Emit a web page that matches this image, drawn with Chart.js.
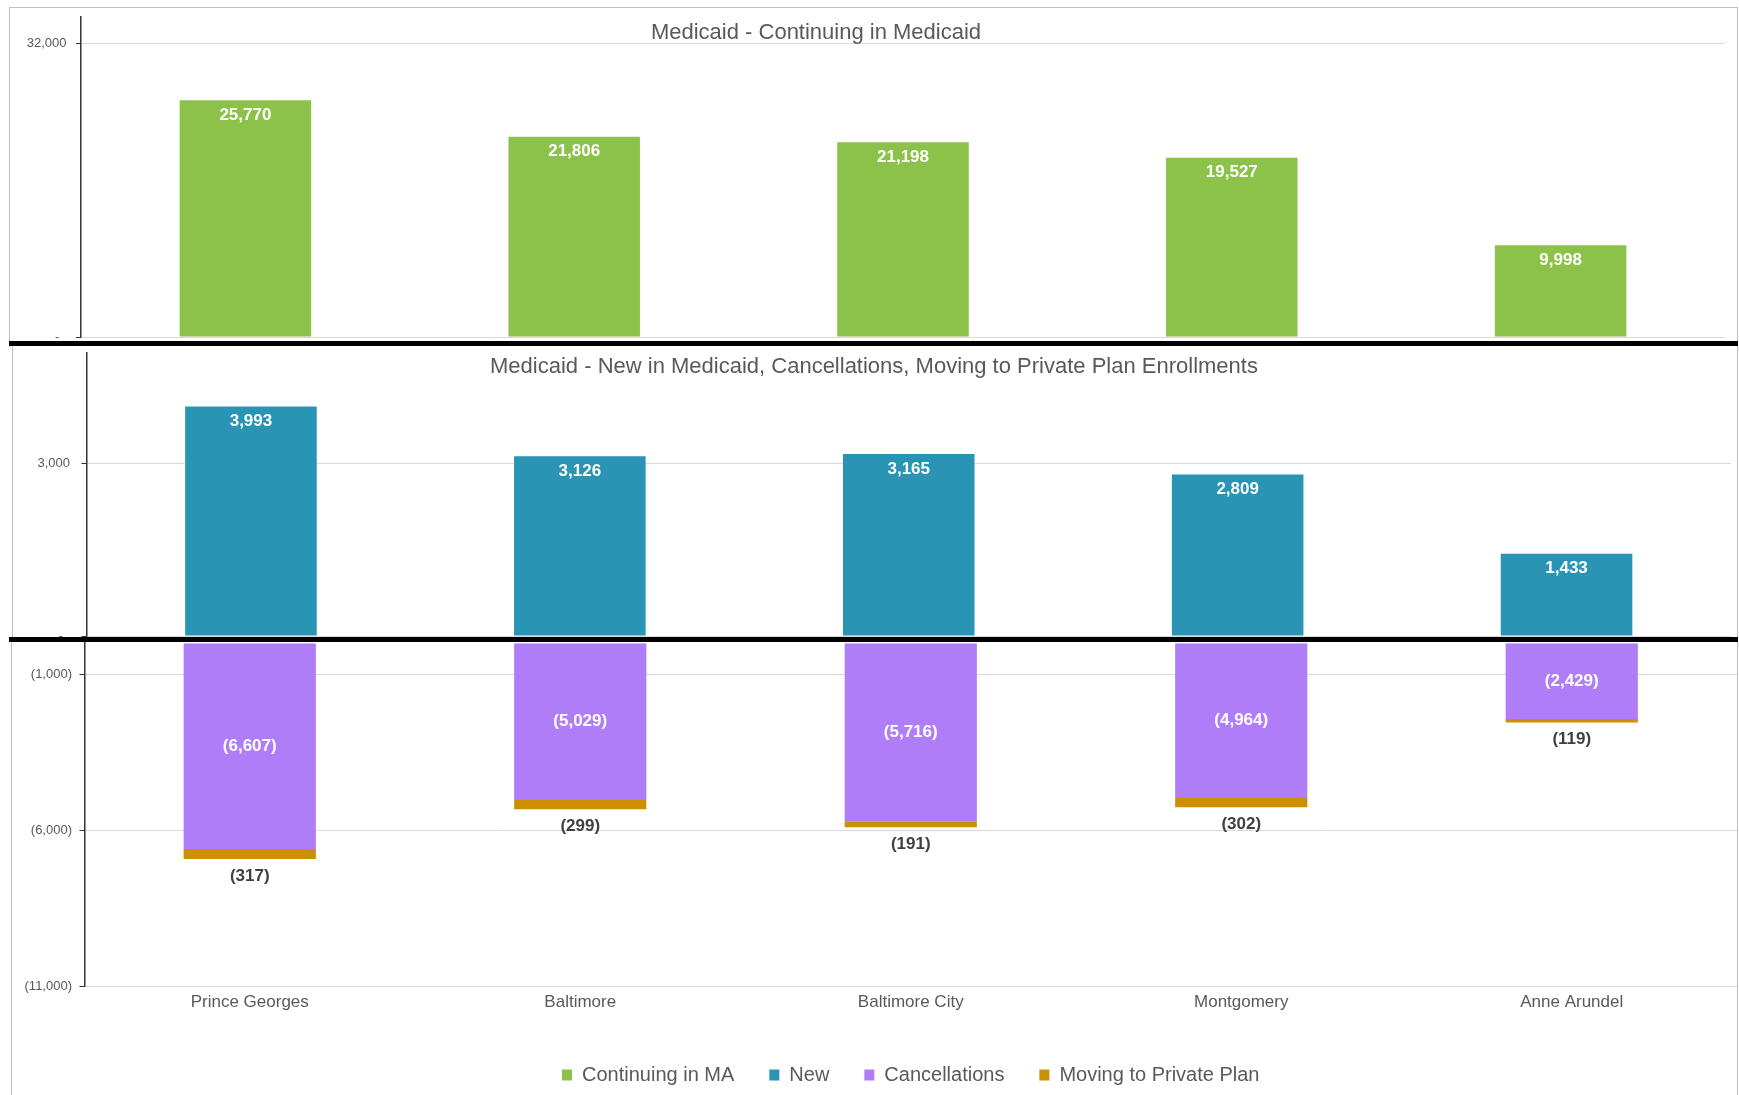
<!DOCTYPE html>
<html>
<head>
<meta charset="utf-8">
<title>Medicaid enrollments by county</title>
<script src="https://cdn.jsdelivr.net/npm/chart.js@4.4.1/dist/chart.umd.min.js"></script>
<style>
  html, body { margin: 0; padding: 0; background: #fff; overflow: hidden; }
  #wrap { position: relative; width: 1739px; height: 1095px; }
  canvas { position: absolute; left: 0; }
  .frame { position: absolute; border: 1px solid #bfbfbf; box-sizing: border-box; }
  .sep { position: absolute; background: #000; height: 5px; left: 9px; width: 1729px; z-index: 2; }
  .title { position: absolute; transform: translate(-50%, -50%); font: 22px "Liberation Sans", Arial, sans-serif; color: #595959; white-space: nowrap; z-index: 3; }
</style>
</head>
<body>
<div id="wrap">
  <div class="frame" style="left:9px;top:7px;width:1729px;height:340px;border-bottom:none"></div>
  <div class="frame" style="left:12px;top:343px;width:1726px;height:297px;border-top:none;border-bottom:none"></div>
  <div class="frame" style="left:11px;top:638px;width:1727px;height:470px;border-top:none"></div>

  <canvas id="cTop" width="1739" height="342" style="top:0"></canvas>
  <canvas id="cMid" width="1739" height="298" style="top:342px"></canvas>
  <canvas id="cLow" width="1739" height="454" style="top:641px"></canvas>

  <div class="sep" style="top:341px"></div>
  <div class="sep" style="top:637px"></div>

  <div class="title" style="left:816px;top:32px">Medicaid - Continuing in Medicaid</div>
  <div class="title" style="left:874px;top:366px">Medicaid - New in Medicaid, Cancellations, Moving to Private Plan Enrollments</div>
</div>

<script>
const counties = ['Prince Georges', 'Baltimore', 'Baltimore City', 'Montgomery', 'Anne Arundel'];
const continuing = [25770, 21806, 21198, 19527, 9998];
const newEnroll = [3993, 3126, 3165, 2809, 1433];
const cancellations = [-6607, -5029, -5716, -4964, -2429];
const movingPrivate = [-317, -299, -191, -302, -119];

const topTicks = [0, 32000];
const midTicks = [0, 3000];
const lowTicks = [-1000, -6000, -11000];

const seriesNames = ['Continuing in MA', 'New', 'Cancellations', 'Moving to Private Plan'];
const seriesColors = ['#8dc24a', '#2994b3', '#af7df8', '#cc8f00'];

const family = '"Liberation Sans", Arial, sans-serif';
Chart.defaults.font.family = family;

// excel accounting style numbers
function fmt(v) {
  if (v === 0) return '-  ';
  const s = Math.abs(v).toLocaleString('en-US');
  return v < 0 ? '(' + s + ')' : s;
}

// value labels on the bars
const barLabels = {
  id: 'barLabels',
  afterDatasetsDraw(chart) {
    const ctx = chart.ctx;
    ctx.save();
    ctx.font = 'bold 17px ' + family;
    ctx.textAlign = 'center';
    ctx.textBaseline = 'middle';
    chart.data.datasets.forEach((ds, i) => {
      const meta = chart.getDatasetMeta(i);
      meta.data.forEach((bar, j) => {
        let y;
        if (ds.labelAt === 'top') y = bar.y + 15;
        else if (ds.labelAt === 'middle') y = (bar.y + bar.base) / 2;
        else y = bar.y + 17;
        ctx.fillStyle = ds.labelColor;
        ctx.fillText(fmt(ds.data[j]), bar.x, y);
      });
    });
    ctx.restore();
  }
};

function yScale(ticks, min, max, axisWidth, pad) {
  return {
    min: min,
    max: max,
    afterBuildTicks: s => { s.ticks = ticks.map(v => ({ value: v })); },
    afterFit: s => {
      s.width = axisWidth;
      // don't let the tick labels push the plot area in
      s.paddingTop = 0;
      s.paddingBottom = 0;
    },
    grid: { color: '#d9d9d9', tickColor: '#333', tickLength: 5 },
    border: { color: '#333', width: 1.5 },
    ticks: { color: '#595959', font: { size: 13 }, padding: pad, callback: v => fmt(v) }
  };
}

const noPlugins = { legend: { display: false }, tooltip: { enabled: false } };

// top panel - continuing
new Chart(document.getElementById('cTop'), {
  type: 'bar',
  data: {
    labels: counties,
    datasets: [{
      label: seriesNames[0], data: continuing, backgroundColor: seriesColors[0],
      barPercentage: 0.4, categoryPercentage: 1, labelAt: 'top', labelColor: '#fff'
    }]
  },
  options: {
    responsive: false, animation: false,
    layout: { padding: { top: 16.5, bottom: 5, left: 0, right: 14 } },
    plugins: noPlugins,
    scales: {
      x: { display: false },
      y: yScale(topTicks, 0, 34900, 81, 9.5)
    }
  },
  plugins: [barLabels]
});

// middle panel - new
new Chart(document.getElementById('cMid'), {
  type: 'bar',
  data: {
    labels: counties,
    datasets: [{
      label: seriesNames[1], data: newEnroll, backgroundColor: seriesColors[1],
      barPercentage: 0.4, categoryPercentage: 1, labelAt: 'top', labelColor: '#fff'
    }]
  },
  options: {
    responsive: false, animation: false,
    layout: { padding: { top: 10.7, bottom: 4, left: 0, right: 8 } },
    plugins: noPlugins,
    scales: {
      x: { display: false },
      y: yScale(midTicks, 0, 4930, 86.5, 11.5)
    }
  },
  plugins: [barLabels]
});

// bottom panel - cancellations and moving to private plan
new Chart(document.getElementById('cLow'), {
  type: 'bar',
  data: {
    labels: counties,
    datasets: [
      {
        label: seriesNames[2], data: cancellations, backgroundColor: seriesColors[2],
        barPercentage: 0.4, categoryPercentage: 1, labelAt: 'middle', labelColor: '#fff'
      },
      {
        label: seriesNames[3], data: movingPrivate, backgroundColor: seriesColors[3],
        barPercentage: 0.4, categoryPercentage: 1, labelAt: 'below', labelColor: '#404040'
      }
    ]
  },
  options: {
    responsive: false, animation: false,
    layout: { padding: { top: 2.2, bottom: 0, left: 0, right: 2 } },
    plugins: {
      tooltip: { enabled: false },
      legend: {
        position: 'bottom',
        fullSize: false,
        labels: {
          boxWidth: 10, boxHeight: 11, padding: 35, color: '#595959',
          font: { size: 20 },
          generateLabels: () => seriesNames.map((t, i) => ({
            text: t, fillStyle: seriesColors[i], strokeStyle: seriesColors[i],
            fontColor: '#595959', lineWidth: 0, hidden: false, datasetIndex: i
          }))
        }
      }
    },
    scales: {
      x: {
        stacked: true,
        afterFit: s => { s.height = 44; },
        grid: { display: false, drawTicks: false },
        border: { display: false },
        ticks: { color: '#595959', font: { size: 17 }, padding: 6 }
      },
      y: Object.assign(yScale(lowTicks, -11000, 0, 84.5, 7.5), { stacked: true })
    }
  },
  plugins: [barLabels]
});
</script>
</body>
</html>
